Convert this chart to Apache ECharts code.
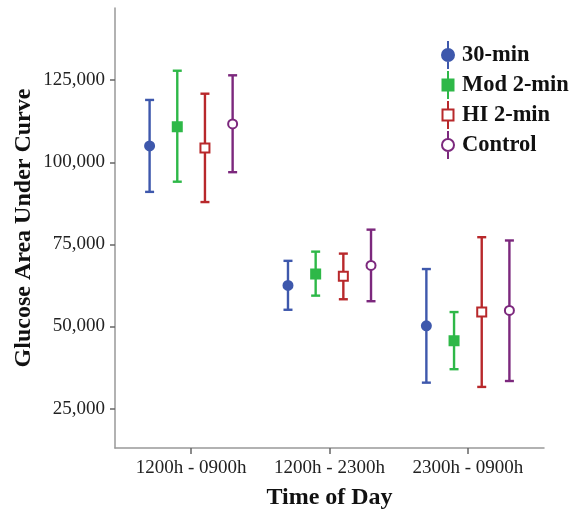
<!DOCTYPE html>
<html>
<head>
<meta charset="utf-8">
<script src="https://cdn.jsdelivr.net/npm/echarts@6/dist/echarts.min.js"></script>
<style>
html,body{margin:0;padding:0;background:#fff;}
#main{width:574px;height:510px;}
</style>
</head>
<body>
<div id="main"></div>
<script>
// ---- data ----
const categories = ['1200h - 0900h', '1200h - 2300h', '2300h - 0900h'];
const seriesNames = ['30-min', 'Mod 2-min', 'HI 2-min', 'Control'];
const yTicks = [25000, 50000, 75000, 100000, 125000];

const mean30 = [105000, 62500, 50200];
const meanMod = [110800, 66000, 45700];
const meanHI = [104400, 65300, 54400];
const meanCtl = [111700, 68600, 54900];

const upper30 = [119000, 70000, 67500];
const upperMod = [127900, 72800, 54400];
const upperHI = [120900, 72200, 77200];
const upperCtl = [126500, 79500, 76200];

const lower30 = [91000, 55100, 32900];
const lowerMod = [94100, 59400, 37000];
const lowerHI = [87900, 58300, 31600];
const lowerCtl = [97000, 57700, 33400];

// ---- styling / layout ----
const means = [mean30, meanMod, meanHI, meanCtl];
const uppers = [upper30, upperMod, upperHI, upperCtl];
const lowers = [lower30, lowerMod, lowerHI, lowerCtl];
const colors = ['#3E58AC', '#2EB848', '#B8282B', '#7C287D'];
const hollow = [false, false, true, true];
const shapes = ['circle', 'rect', 'rect', 'circle'];
const dodge = [-0.3, -0.1, 0.1, 0.3];

const circleIcon = 'path://M7.5,0 L7.5,8 M1.5,14 A6,6 0 1,1 13.5,14 A6,6 0 1,1 1.5,14 Z M7.5,20 L7.5,28';
const squareIcon = 'path://M7.5,0 L7.5,8.5 M2,8.5 L13,8.5 L13,19.5 L2,19.5 Z M7.5,19.5 L7.5,28';

const serif = '"Liberation Serif", "Times New Roman", serif';

const series = [];
// error bars
seriesNames.forEach((name, s) => {
  series.push({
    type: 'custom',
    name: name + ' CI',
    z: 2,
    silent: true,
    encode: { x: 0, y: [1, 2] },
    data: categories.map((c, i) => [i + dodge[s], lowers[s][i], uppers[s][i]]),
    renderItem: function (params, api) {
      const lo = api.coord([api.value(0), api.value(1)]);
      const hi = api.coord([api.value(0), api.value(2)]);
      const hw = 4.5;
      const style = { stroke: colors[s], lineWidth: 2.4, fill: null };
      return {
        type: 'group',
        children: [
          { type: 'line', shape: { x1: lo[0], y1: lo[1], x2: hi[0], y2: hi[1] }, style: style },
          { type: 'line', shape: { x1: hi[0] - hw, y1: hi[1], x2: hi[0] + hw, y2: hi[1] }, style: style },
          { type: 'line', shape: { x1: lo[0] - hw, y1: lo[1], x2: lo[0] + hw, y2: lo[1] }, style: style }
        ]
      };
    }
  });
});
// mean markers
seriesNames.forEach((name, s) => {
  series.push({
    type: 'scatter',
    name: name,
    z: 5,
    symbol: shapes[s],
    symbolSize: 9,
    itemStyle: {
      color: hollow[s] ? '#ffffff' : colors[s],
      borderColor: colors[s],
      borderWidth: 2,
      opacity: 1
    },
    data: categories.map((c, i) => [i + dodge[s], means[s][i]])
  });
});

const chart = echarts.init(document.getElementById('main'), null, { renderer: 'canvas' });
chart.setOption({
  backgroundColor: '#ffffff',
  animation: false,
  grid: { left: 115, right: 30, top: 8, bottom: 62, containLabel: false, outerBoundsMode: 'none' },
  legend: {
    orient: 'vertical',
    left: 441,
    top: 40,
    padding: 0,
    itemWidth: 16,
    itemHeight: 28,
    itemGap: 0,
    selectedMode: false,
    textStyle: { fontFamily: serif, fontWeight: 'bold', fontSize: 22.5, lineHeight: 26, color: '#111', padding: [0, 0, 0, 1] },
    data: seriesNames.map((n, s) => ({ name: n, icon: shapes[s] === 'circle' ? circleIcon : squareIcon }))
  },
  xAxis: {
    type: 'value',
    min: -0.55,
    max: 2.55,
    name: 'Time of Day',
    nameLocation: 'middle',
    nameGap: 38,
    nameMoveOverlap: false,
    nameTextStyle: { fontFamily: serif, fontWeight: 'bold', fontSize: 24, color: '#111' },
    splitLine: { show: false },
    axisLine: { show: true, onZero: false, lineStyle: { color: '#999', width: 1.5 } },
    axisTick: { show: true, customValues: [0, 1, 2], length: 6, lineStyle: { color: '#666', width: 1.5 } },
    axisLabel: {
      customValues: [0, 1, 2],
      margin: 11,
      fontFamily: serif, fontSize: 19, color: '#222',
      formatter: v => categories[Math.round(v)]
    }
  },
  yAxis: {
    type: 'value',
    min: 13000,
    max: 147000,
    name: 'Glucose Area Under Curve',
    nameLocation: 'middle',
    nameRotate: 90,
    nameGap: 79,
    nameMoveOverlap: false,
    nameTextStyle: { fontFamily: serif, fontWeight: 'bold', fontSize: 24, color: '#111' },
    splitLine: { show: false },
    axisLine: { show: true, onZero: false, lineStyle: { color: '#999', width: 1.5 } },
    axisTick: { show: true, customValues: yTicks, length: 5, lineStyle: { color: '#666', width: 1.5 } },
    axisLabel: {
      customValues: yTicks,
      margin: 10,
      fontFamily: serif, fontSize: 19, color: '#222',
      formatter: v => Number(v).toLocaleString('en-US')
    }
  },
  series: series
});
</script>
</body>
</html>
